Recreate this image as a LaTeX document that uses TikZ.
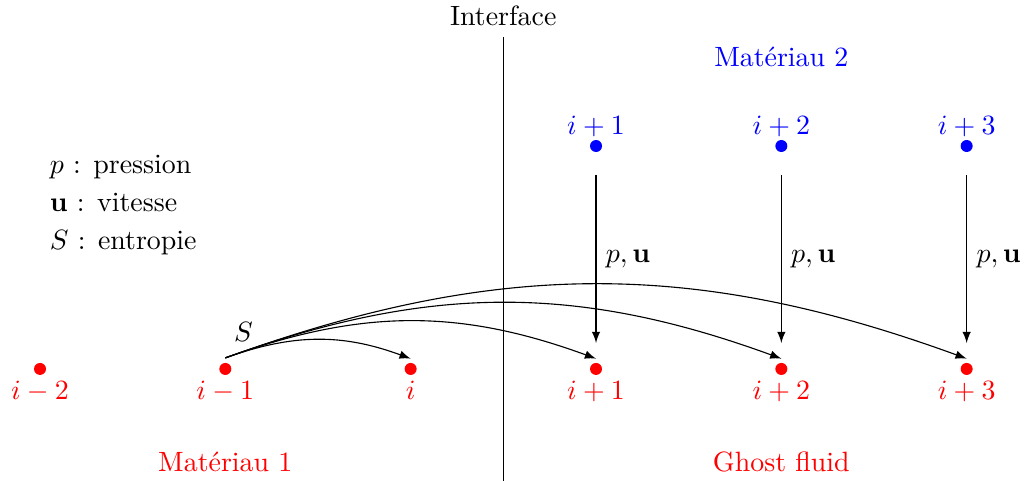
\documentclass[tikz,border=0pt]{standalone}
\usetikzlibrary{positioning}
\tikzset{
  % --- DOTS ---
  dot-red/.style={
    circle,
    fill=red,
    inner sep=0pt,
    minimum size=4.3pt
  },
  dot-blue/.style={
    circle,
    fill=blue,
    inner sep=0pt,
    minimum size=4.3pt
  },
  % --- LABELS ---
  text-red/.style={text=red},
  text-blue/.style={text=blue},
  legend-item/.style={anchor=base west},
  % --- ARROWS ---
  arrw/.style={
    draw=black,
    -latex
  },
  arrw-bend/.style={
    arrw,
    bend left=20
  },
}
\begin{document}
\begin{tikzpicture}
  \useasboundingbox (-0.504,-1.411) rectangle (12.406,4.647);
  % --- red dots (material 1 and ghost cells)
  \node[dot-red] (m2) at (0,0) {};
  \node[dot-red] (m1) at (2.334,0) {};
  \node[dot-red] (c0) at (4.668,0) {};
  \node[dot-red] (g1) at (7.003,0) {};
  \node[dot-red] (g2) at (9.337,0) {};
  \node[dot-red] (g3) at (11.671,0) {};
  \node[text-red, below=-1.7pt of m2] (lm2) {$i-2$};
  \node[text-red, below=-1.7pt of m1] (lm1) {$i-1$};
  \node[text-red, below=-1.7pt of c0] (lc0) {$i$};
  \node[text-red, below=-1.7pt of g1] (lg1) {$i+1$};
  \node[text-red, below=-1.7pt of g2] (lg2) {$i+2$};
  \node[text-red, below=-1.7pt of g3] (lg3) {$i+3$};
  % --- blue dots (material 2)
  \node[dot-blue] (b1) at (7.003,2.808) {};
  \node[dot-blue] (b2) at (9.337,2.808) {};
  \node[dot-blue] (b3) at (11.671,2.808) {};
  \node[text-blue, above=-2.5pt of b1] (lb1) {$i+1$};
  \node[text-blue, above=-2.5pt of b2] (lb2) {$i+2$};
  \node[text-blue, above=-2.5pt of b3] (lb3) {$i+3$};
  % --- interface
  \coordinate (itop) at (5.835,4.181);
  \coordinate (ibot) at (5.835,-1.411);
  \draw (itop) -- (ibot);
  \node[above=0.6pt of itop] (itf) {Interface};
  % --- material names
  \node[text-blue] (mat2)  at (9.337,3.929)  {Matériau 2};
  \node[text-red]  (mat1)  at (2.334,-1.171) {Matériau 1};
  \node[text-red]  (ghost) at (9.337,-1.171) {Ghost fluid};
  % --- legend
  \node[legend-item] (lp) at (0,2.465) {$p$ : pression};
  \node[legend-item] (lu) at (0,1.981) {$\mathbf{u}$ : vitesse};
  \node[legend-item] (ls) at (0,1.499) {$S$ : entropie};
  % --- p, u taken from material 2
  \draw[arrw] ([yshift=-0.365cm]b1.center) -- node[right] (pu1) {$p, \mathbf{u}$} ([yshift=0.327cm]g1.center);
  \draw[arrw] ([yshift=-0.365cm]b2.center) -- node[right] (pu2) {$p, \mathbf{u}$} ([yshift=0.327cm]g2.center);
  \draw[arrw] ([yshift=-0.365cm]b3.center) -- node[right] (pu3) {$p, \mathbf{u}$} ([yshift=0.327cm]g3.center);
  % --- S extrapolated from i-1
  \node (ent) at (2.563,0.472) {$S$};
  \draw[arrw-bend] ([yshift=0.139cm]m1.center) to ([yshift=0.13cm]c0.center);
  \draw[arrw-bend] ([yshift=0.139cm]m1.center) to ([yshift=0.13cm]g1.center);
  \draw[arrw-bend] ([yshift=0.139cm]m1.center) to ([yshift=0.13cm]g2.center);
  \draw[arrw-bend] ([yshift=0.139cm]m1.center) to ([yshift=0.13cm]g3.center);
\end{tikzpicture}
\end{document}
